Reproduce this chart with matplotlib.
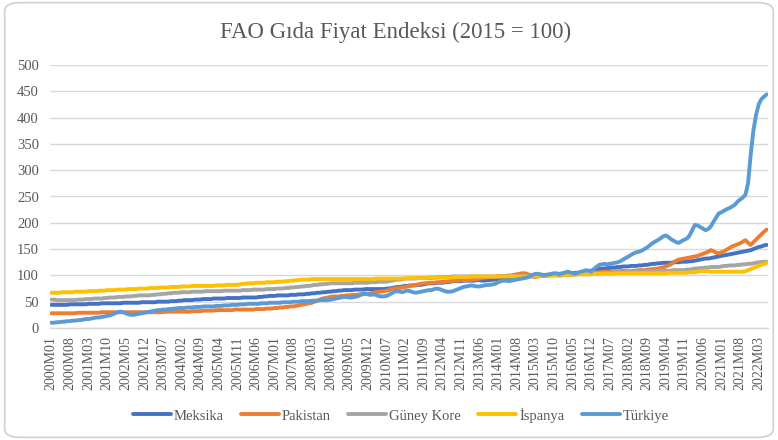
import matplotlib
matplotlib.use("Agg")
import matplotlib.pyplot as plt
from matplotlib.patches import FancyBboxPatch

plt.rcParams['font.family'] = ['Liberation Serif', 'DejaVu Serif']

title = "FAO Gıda Fiyat Endeksi (2015 = 100)"
series_names = ["Meksika", "Pakistan", "Güney Kore", "İspanya", "Türkiye"]
colors = ["#4472C4", "#ED7D31", "#A5A5A5", "#FFC000", "#5B9BD5"]

tick_labels = ["2000M01", "2000M08", "2001M03", "2001M10", "2002M05", "2002M12",
               "2003M07", "2004M02", "2004M09", "2005M04", "2005M11", "2006M06",
               "2007M01", "2007M08", "2008M03", "2008M10", "2009M05", "2009M12",
               "2010M07", "2011M02", "2011M09", "2012M04", "2012M11", "2013M06",
               "2014M01", "2014M08", "2015M03", "2015M10", "2016M05", "2016M12",
               "2017M07", "2018M02", "2018M09", "2019M04", "2019M11", "2020M06",
               "2021M01", "2021M08", "2022M03"]

# monthly values, 2000M01 .. 2022M06
meksika = [
    44,44,44,44,44,44,44,45,45,45,45,45,
    45,45,46,46,46,46,46,47,47,47,47,47,
    47,47,47,48,48,48,48,48,48,48,49,49,
    49,49,49,49,50,50,50,50,50,51,51,51,
    52,52,53,53,53,53,54,54,54,55,55,55,
    55,56,56,56,56,56,57,57,57,57,57,57,
    58,58,58,58,58,58,59,59,60,60,61,61,
    61,62,62,62,62,62,63,63,63,64,64,64,
    65,65,66,66,67,67,68,68,69,69,70,70,
    71,71,72,72,72,72,73,73,73,73,74,74,
    74,74,74,74,74,74,75,75,76,77,78,78,
    79,80,80,81,81,81,82,82,83,84,85,85,
    85,86,86,86,87,87,88,89,89,89,89,90,
    90,90,90,90,91,91,90,90,91,91,92,92,
    94,94,94,94,94,94,95,95,96,96,97,97,
    98,98,99,99,99,99,100,100,101,101,102,103,
    103,104,104,104,104,105,105,105,106,107,108,109,
    110,111,112,113,113,114,114,115,115,116,116,117,
    117,117,118,118,118,119,119,120,120,121,122,122,
    123,123,124,124,124,124,125,125,125,126,126,126,
    127,127,128,129,130,131,132,132,133,134,135,136,
    137,138,139,140,141,142,143,144,145,146,147,148,
    150,152,154,155,157,158]

pakistan = [
    28,28,28,28,28,28,28,28,28,28,29,29,
    29,29,29,29,29,29,29,30,30,30,30,30,
    30,30,30,30,30,30,30,30,30,30,30,30,
    30,30,30,30,30,30,30,31,31,31,31,31,
    31,31,31,31,31,32,32,32,32,33,33,33,
    33,33,34,34,34,34,34,34,34,35,35,35,
    35,35,35,35,35,36,36,36,36,37,37,37,
    38,38,39,39,40,40,41,41,42,43,44,45,
    46,47,48,50,52,54,56,57,58,59,60,60,
    60,61,61,62,62,63,63,63,64,64,65,65,
    66,67,68,69,69,70,71,72,74,75,76,76,
    77,78,79,80,81,82,83,84,85,85,86,86,
    86,87,87,88,88,89,89,90,90,90,91,91,
    91,91,92,92,93,94,95,96,96,97,97,97,
    97,98,99,99,100,100,101,102,103,104,104,103,
    100,98,97,98,99,100,101,101,101,101,101,100,
    100,101,101,102,102,103,103,103,104,104,104,105,
    105,105,106,106,107,107,107,108,108,108,108,109,
    108,108,108,109,109,110,110,110,111,111,112,112,
    113,114,115,117,119,121,125,128,130,131,132,133,
    134,135,136,137,139,141,143,145,148,146,143,142,
    144,146,149,152,155,157,159,161,164,167,162,158,
    163,168,173,178,183,187]

guney_kore = [
    54,54,53,53,53,53,53,53,53,53,54,54,
    54,55,55,55,56,56,56,56,57,57,58,58,
    58,59,59,59,60,60,60,61,61,62,62,62,
    62,62,63,63,64,64,65,65,66,66,67,67,
    67,68,68,68,68,69,69,69,69,69,70,70,
    70,70,70,70,70,71,71,71,71,71,71,71,
    72,72,72,72,73,73,73,73,73,74,74,74,
    74,75,75,75,76,76,77,77,78,78,79,79,
    80,80,81,82,82,83,83,84,84,85,85,85,
    85,85,85,85,85,85,86,86,86,86,86,86,
    87,87,87,88,88,88,88,89,90,91,92,92,
    93,94,94,94,94,94,95,95,95,95,95,95,
    96,96,97,97,97,97,97,98,98,98,98,98,
    98,98,98,98,98,98,98,98,98,98,98,98,
    99,99,99,99,99,99,99,99,99,99,99,99,
    100,100,100,100,100,100,100,100,100,100,100,100,
    101,101,101,101,102,102,102,103,103,103,103,103,
    104,104,104,105,105,105,105,106,106,106,106,106,
    106,106,106,107,107,107,107,108,108,108,108,108,
    108,109,109,109,109,109,110,110,110,110,110,111,
    111,112,113,113,114,114,115,115,116,116,116,116,
    117,118,118,119,119,119,120,120,121,121,122,122,
    123,124,125,125,126,126]

ispanya = [
    67,67,67,67,68,68,68,68,68,69,69,69,
    69,69,70,70,70,70,71,71,71,72,72,72,
    72,73,73,73,73,74,74,74,74,75,75,75,
    75,76,76,76,76,77,77,77,77,78,78,78,
    78,79,79,79,79,80,80,80,80,80,80,80,
    80,80,81,81,81,81,82,82,82,82,82,83,
    84,84,85,85,85,86,86,86,86,87,87,87,
    87,88,88,88,89,89,90,90,91,91,92,92,
    92,92,93,93,93,93,93,93,93,93,93,93,
    93,93,93,93,93,93,93,93,93,93,93,93,
    93,93,94,94,94,94,94,94,94,94,94,94,
    94,94,95,95,95,95,95,95,95,95,96,96,
    96,96,96,96,96,96,96,96,97,97,97,97,
    97,97,98,98,98,98,98,98,98,98,98,98,
    98,98,98,98,98,98,98,98,98,98,98,98,
    99,99,99,99,100,100,100,100,100,100,101,101,
    101,101,101,101,101,102,102,102,102,102,102,102,
    103,103,103,103,103,103,103,103,104,104,104,104,
    104,104,104,104,104,104,104,104,104,104,104,104,
    104,104,104,104,105,105,105,105,105,105,105,105,
    106,106,106,107,108,108,108,108,107,107,107,107,
    107,107,107,107,107,107,107,107,107,108,110,112,
    114,116,118,120,122,124]

turkiye = [
    10,10,11,11,12,12,13,13,14,14,15,15,
    16,17,17,18,19,20,20,21,22,23,24,26,
    28,30,31,30,28,26,25,25,26,27,28,29,
    30,31,32,33,34,34,35,35,36,36,37,37,
    38,38,38,39,39,39,40,40,40,41,41,41,
    41,41,42,42,42,43,43,43,44,44,44,45,
    45,45,46,46,46,46,46,47,47,47,48,48,
    48,48,48,49,49,49,49,50,50,50,51,51,
    51,51,52,52,52,53,53,53,53,54,55,56,
    57,58,59,59,58,58,59,60,62,65,66,64,
    63,64,63,61,60,60,61,63,66,69,70,69,
    68,70,71,70,68,67,68,69,70,71,72,72,
    74,75,74,72,70,69,69,70,72,74,76,78,
    79,80,81,80,79,79,80,81,82,82,83,84,
    87,89,90,90,89,90,91,92,93,94,95,96,
    99,101,103,103,102,101,101,102,103,104,104,102,
    104,105,107,106,104,103,105,107,108,110,109,107,
    112,116,120,121,122,121,122,123,124,125,127,130,
    133,136,139,142,144,145,147,150,153,157,161,164,
    167,170,174,176,173,169,166,163,162,165,168,170,
    176,186,196,195,192,189,186,188,193,202,210,218,
    220,223,226,228,231,234,240,244,248,253,275,330,
    375,405,425,435,440,444]

all_series = [meksika, pakistan, guney_kore, ispanya, turkiye]
n = len(turkiye)
for s in all_series:
    assert len(s) == n, len(s)

W, H = 778, 440
fig = plt.figure(figsize=(W / 100, H / 100), dpi=100)
fig.patch.set_facecolor("white")
border = FancyBboxPatch((0.006, 0.006), 0.988, 0.988,
                        boxstyle="round,pad=0,rounding_size=0.02",
                        transform=fig.transFigure, fill=False,
                        ec="#D0D0D0", lw=1.2)
fig.patches.append(border)

ax = fig.add_axes([50 / W, 1 - 328 / H, 718 / W, 263 / H])
x = list(range(n))
for s, name, c in zip(all_series, series_names, colors):
    ax.plot(x, s, color=c, lw=2.8, label=name, solid_capstyle="round")

ax.set_xlim(-0.5, n - 0.5)
ax.set_ylim(0, 500)
ax.set_yticks(range(0, 501, 50))
ax.yaxis.grid(True, color="#D9D9D9", lw=1)
ax.set_axisbelow(True)
for sp in ["top", "right", "left"]:
    ax.spines[sp].set_visible(False)
ax.spines["bottom"].set_color("#D9D9D9")
ax.spines["bottom"].set_linewidth(1)

tick_pos = [tick_labels.index(t) * 7 for t in tick_labels]
ax.set_xticks(tick_pos)
ax.set_xticklabels(tick_labels, rotation=90, fontsize=10, color="#595959")
ax.tick_params(axis="both", length=0, colors="#595959")
ax.tick_params(axis="y", labelsize=10.5, pad=8)
ax.tick_params(axis="x", pad=6)

fig.text(0.508, 1 - 32 / H, title, ha="center", va="center",
         fontsize=16.5, color="#595959")

fig.legend(loc="center", bbox_to_anchor=(0.515, 1 - 415 / H), ncol=5,
           frameon=False, fontsize=10.5, handlelength=2.6,
           columnspacing=1.2, handletextpad=0.2, labelcolor="#595959")

fig.savefig("out.png", dpi=100)
